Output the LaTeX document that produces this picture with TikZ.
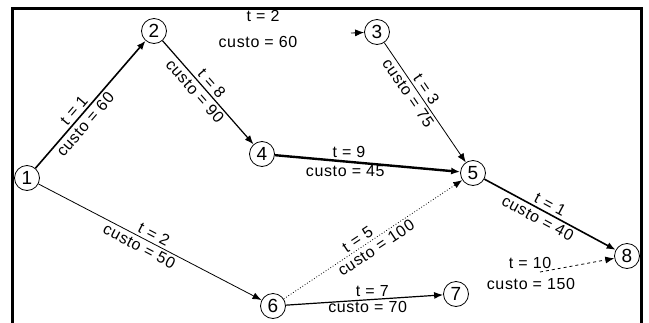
\documentclass[tikz,border=0pt]{standalone}
\usepackage{fontspec}
\setmainfont{Liberation Sans}[LetterSpace=4]
\usetikzlibrary{arrows.meta}
\begin{document}
\begin{tikzpicture}[x=1pt,y=-1pt,
  vert/.style={circle,draw,line width=0.8pt,minimum size=25pt,inner sep=0pt,font=\fontsize{19}{19}\selectfont},
  lbl/.style={font=\fontsize{16}{16}\selectfont,inner sep=2.5pt},
  arr/.style={-{Latex[length=9pt,width=7pt]}},
  frame/.style={line width=3pt,line cap=rect}]
\useasboundingbox (0,0) rectangle (649,322);
\draw[frame] (12.5,330) -- (12.5,8.5) -- (641.5,8.5) -- (641.5,330);

\node[vert] (n1) at (27,178) {1};
\node[vert] (n2) at (154,31) {2};
\node[vert] (n3) at (377,32) {3};
\node[vert] (n4) at (262,154) {4};
\node[vert] (n5) at (473,173) {5};
\node[vert] (n6) at (273,306) {6};
\node[vert] (n7) at (456,294) {7};
\node[vert] (n8) at (627,256) {8};

\coordinate (s3) at (351,33);
\coordinate (d8) at (540,272);

% 1 -> 2
\draw[arr,line width=1.6pt] (n1) -- (n2)
  node[lbl,pos=0.41,sloped,above] {t = 1}
  node[lbl,pos=0.39,sloped,below] {custo = 60};
% 2 -> 3 (only the arrowhead is visible)
\draw[arr,line width=0.8pt] (s3) -- (n3);
\node[lbl] (l23a) at (263,16) {t = 2};
\node[lbl] (l23b) at (258,42) {custo = 60};
% 2 -> 4
\draw[arr,line width=1.2pt] (n2) -- (n4)
  node[lbl,pos=0.47,sloped,above] {t = 8}
  node[lbl,pos=0.43,sloped,below] {custo = 90};
% 3 -> 5
\draw[arr,line width=0.8pt] (n3) -- (n5)
  node[lbl,pos=0.43,sloped,above] {t = 3}
  node[lbl,pos=0.38,sloped,below] {custo = 75};
% 4 -> 5
\draw[arr,line width=2.4pt] (n4) -- (n5)
  node[lbl,pos=0.4,above] {t = 9}
  node[lbl,pos=0.38,below] {custo = 45};
% 1 -> 6
\draw[arr,line width=0.8pt] (n1) -- (n6)
  node[lbl,pos=0.5,sloped,above] {t = 2}
  node[lbl,pos=0.47,sloped,below] {custo = 50};
% 6 -> 5
\draw[arr,line width=0.8pt,dotted] (n6) -- (n5)
  node[lbl,pos=0.44,sloped,above] {t = 5}
  node[lbl,pos=0.49,sloped,below] {custo = 100};
% 6 -> 7
\draw[arr,line width=1.2pt] (n6) -- (n7)
  node[lbl,pos=0.55,above] {t = 7}
  node[lbl,pos=0.52,below,inner sep=1pt] {custo = 70};
% 5 -> 8
\draw[arr,line width=1.6pt] (n5) -- (n8)
  node[lbl,pos=0.47,sloped,above] {t = 1}
  node[lbl,pos=0.44,sloped,below] {custo = 40};
% dashed -> 8
\draw[arr,line width=0.8pt,dashed] (d8) -- (n8);
\node[lbl] (l8a) at (530,263) {t = 10};
\node[lbl] (l8b) at (531,284) {custo = 150};
\end{tikzpicture}
\end{document}
